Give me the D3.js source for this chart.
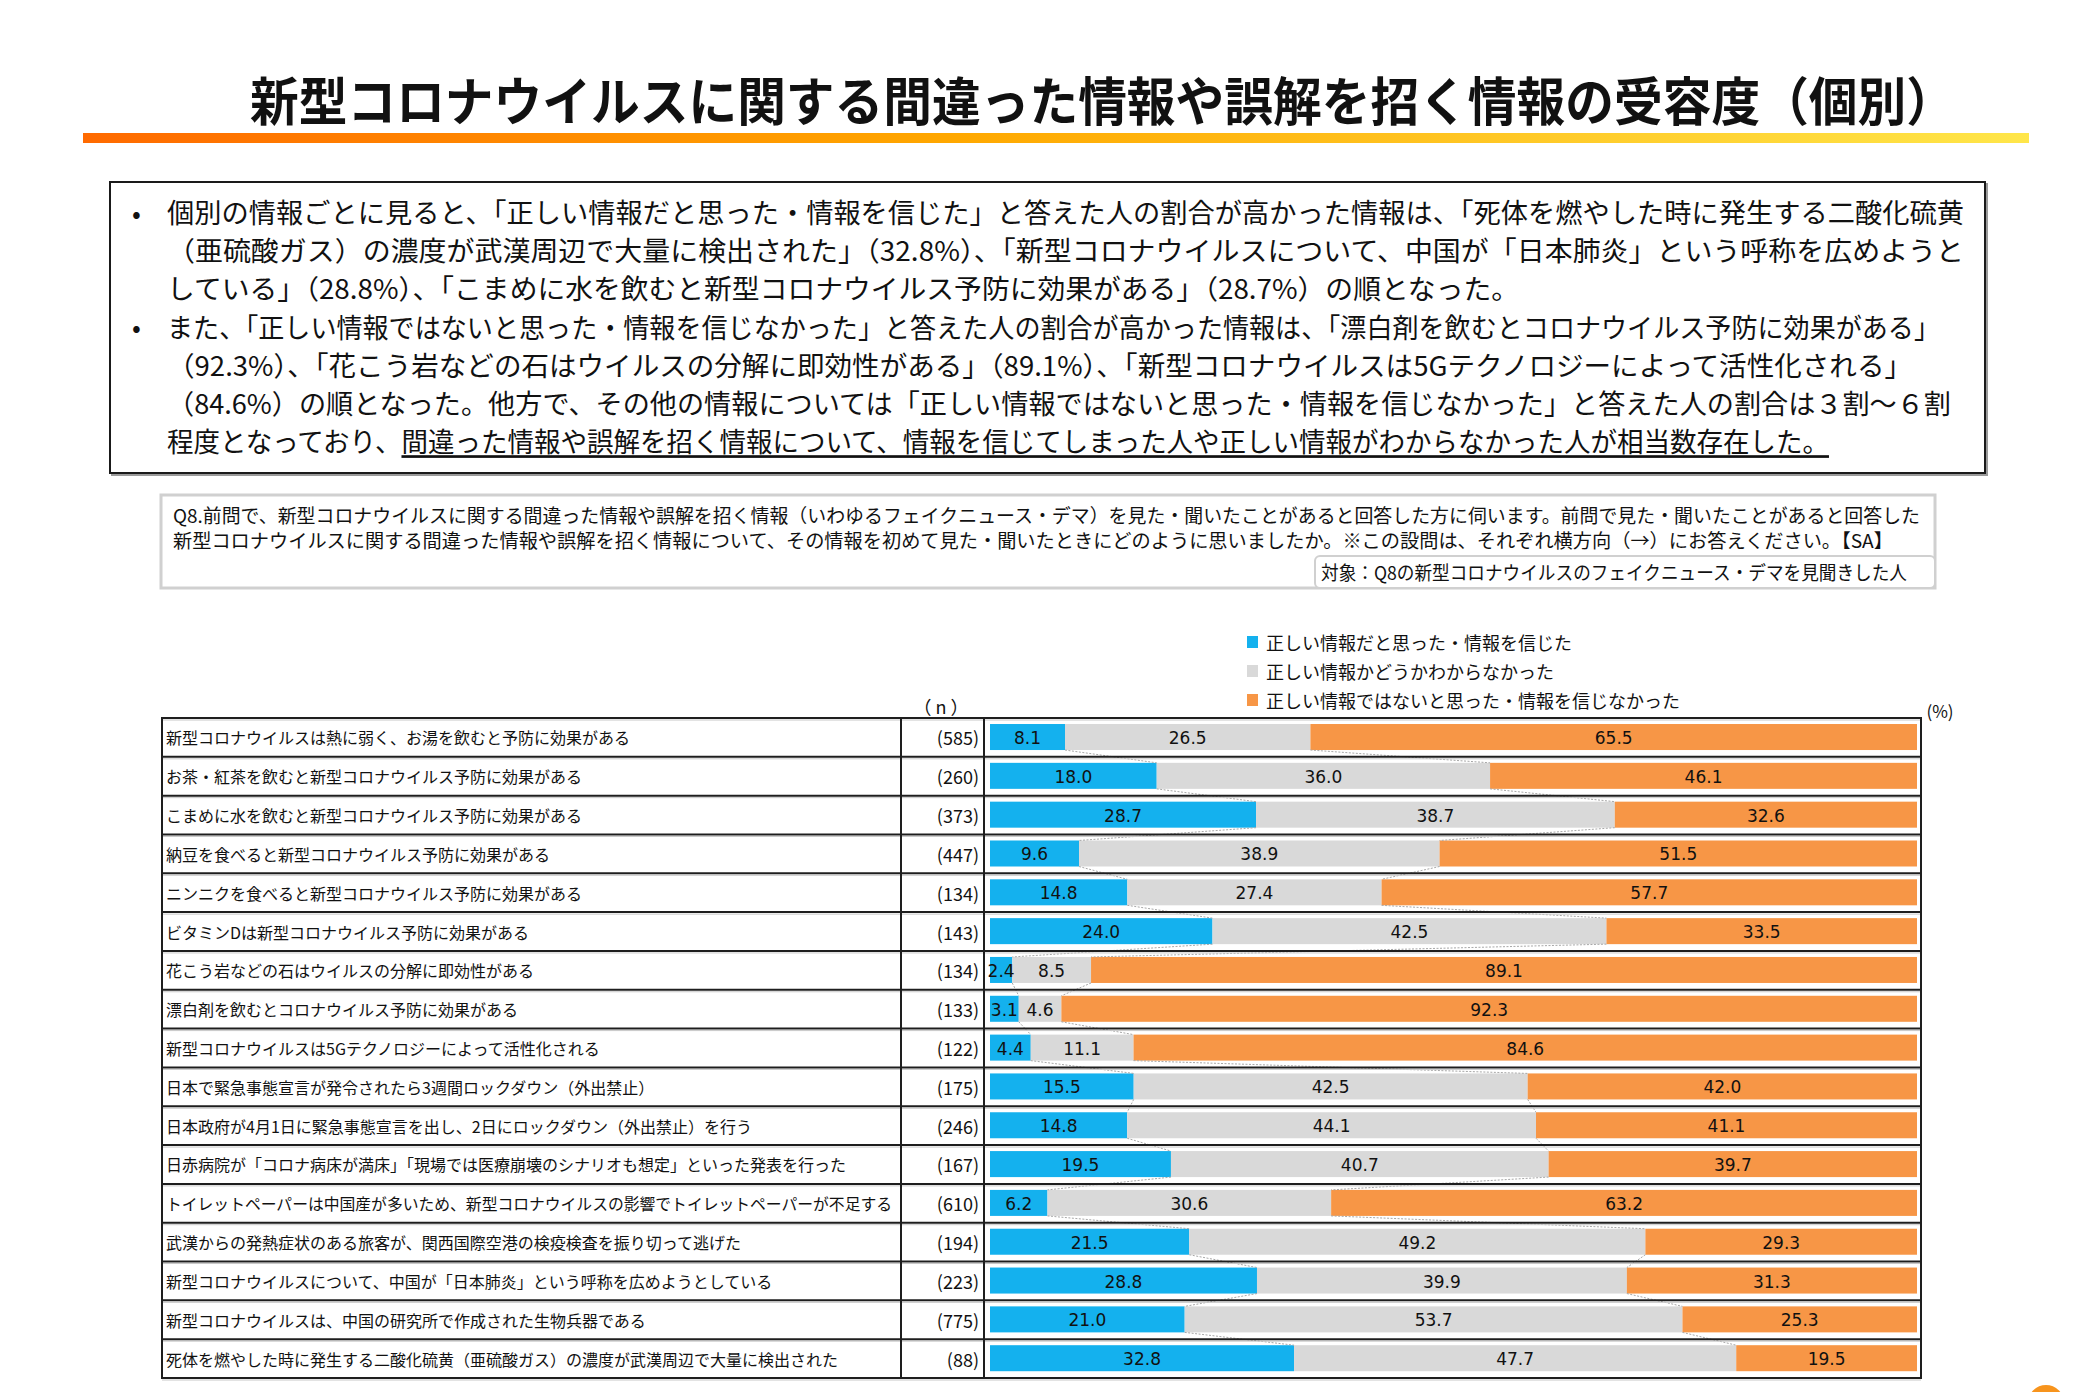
<!DOCTYPE html>
<html>
<head>
<meta charset="utf-8">
<script src="https://cdn.jsdelivr.net/npm/d3@7"></script>
<style>
  body { margin: 0; background: #fff; }
  text { font-family: "Noto Sans CJK JP", "Noto Sans", sans-serif; fill: #111; }
  .num { font-family: "DejaVu Sans", Verdana, sans-serif; }
</style>
</head>
<body>
<div id="chart"></div>
<script>
// ---- data ----
const categories = [
  "新型コロナウイルスは熱に弱く、お湯を飲むと予防に効果がある",
  "お茶・紅茶を飲むと新型コロナウイルス予防に効果がある",
  "こまめに水を飲むと新型コロナウイルス予防に効果がある",
  "納豆を食べると新型コロナウイルス予防に効果がある",
  "ニンニクを食べると新型コロナウイルス予防に効果がある",
  "ビタミンDは新型コロナウイルス予防に効果がある",
  "花こう岩などの石はウイルスの分解に即効性がある",
  "漂白剤を飲むとコロナウイルス予防に効果がある",
  "新型コロナウイルスは5Gテクノロジーによって活性化される",
  "日本で緊急事態宣言が発令されたら3週間ロックダウン（外出禁止）",
  "日本政府が4月1日に緊急事態宣言を出し、2日にロックダウン（外出禁止）を行う",
  "日赤病院が「コロナ病床が満床」「現場では医療崩壊のシナリオも想定」といった発表を行った",
  "トイレットペーパーは中国産が多いため、新型コロナウイルスの影響でトイレットペーパーが不足する",
  "武漢からの発熱症状のある旅客が、関西国際空港の検疫検査を振り切って逃げた",
  "新型コロナウイルスについて、中国が「日本肺炎」という呼称を広めようとしている",
  "新型コロナウイルスは、中国の研究所で作成された生物兵器である",
  "死体を燃やした時に発生する二酸化硫黄（亜硫酸ガス）の濃度が武漢周辺で大量に検出された"
];
const nValues = [585, 260, 373, 447, 134, 143, 134, 133, 122, 175, 246, 167, 610, 194, 223, 775, 88];
const believed    = [8.1, 18.0, 28.7, 9.6, 14.8, 24.0, 2.4, 3.1, 4.4, 15.5, 14.8, 19.5, 6.2, 21.5, 28.8, 21.0, 32.8];
const unsure      = [26.5, 36.0, 38.7, 38.9, 27.4, 42.5, 8.5, 4.6, 11.1, 42.5, 44.1, 40.7, 30.6, 49.2, 39.9, 53.7, 47.7];
const disbelieved = [65.5, 46.1, 32.6, 51.5, 57.7, 33.5, 89.1, 92.3, 84.6, 42.0, 41.1, 39.7, 63.2, 29.3, 31.3, 25.3, 19.5];

const seriesKeys = ["believed", "unsure", "disbelieved"];
const seriesNames = [
  "正しい情報だと思った・情報を信じた",
  "正しい情報かどうかわからなかった",
  "正しい情報ではないと思った・情報を信じなかった"
];
const seriesColors = ["#14b1ee", "#d9d9d9", "#f79646"];

const titleText = "新型コロナウイルスに関する間違った情報や誤解を招く情報の受容度（個別）";
const summaryLines = [
  "個別の情報ごとに見ると、「正しい情報だと思った・情報を信じた」と答えた人の割合が高かった情報は、「死体を燃やした時に発生する二酸化硫黄",
  "（亜硫酸ガス）の濃度が武漢周辺で大量に検出された」（32.8%）、「新型コロナウイルスについて、中国が「日本肺炎」という呼称を広めようと",
  "している」（28.8%）、「こまめに水を飲むと新型コロナウイルス予防に効果がある」（28.7%）の順となった。",
  "また、「正しい情報ではないと思った・情報を信じなかった」と答えた人の割合が高かった情報は、「漂白剤を飲むとコロナウイルス予防に効果がある」",
  "（92.3%）、「花こう岩などの石はウイルスの分解に即効性がある」（89.1%）、「新型コロナウイルスは5Gテクノロジーによって活性化される」",
  "（84.6%）の順となった。他方で、その他の情報については「正しい情報ではないと思った・情報を信じなかった」と答えた人の割合は３割～６割",
  "程度となっており、"
];
const summaryUnderlined = "間違った情報や誤解を招く情報について、情報を信じてしまった人や正しい情報がわからなかった人が相当数存在した。";
const questionLines = [
  "Q8.前問で、新型コロナウイルスに関する間違った情報や誤解を招く情報（いわゆるフェイクニュース・デマ）を見た・聞いたことがあると回答した方に伺います。前問で見た・聞いたことがあると回答した",
  "新型コロナウイルスに関する間違った情報や誤解を招く情報について、その情報を初めて見た・聞いたときにどのように思いましたか。※この設問は、それぞれ横方向（→）にお答えください。【SA】"
];
const targetText = "対象：Q8の新型コロナウイルスのフェイクニュース・デマを見聞きした人";

// ---- page ----
const W = 2092, H = 1392;
const svg = d3.select("#chart").append("svg")
  .attr("width", W)
  .attr("height", H)
  .style("display", "block");

svg.append("rect").attr("width", W).attr("height", H).attr("fill", "#fff");

const defs = svg.append("defs");
const grad = defs.append("linearGradient").attr("id", "rule");
grad.append("stop").attr("offset", "0%").attr("stop-color", "#ff6a00");
grad.append("stop").attr("offset", "45%").attr("stop-color", "#ffa800");
grad.append("stop").attr("offset", "100%").attr("stop-color", "#ffe64a");

// title
svg.append("text")
  .attr("x", 250)
  .attr("y", 98)
  .attr("dominant-baseline", "central")
  .attr("textLength", 1705)
  .attr("lengthAdjust", "spacingAndGlyphs")
  .style("font-size", "52px")
  .style("font-weight", 700)
  .text(titleText);

svg.append("rect")
  .attr("x", 83).attr("y", 133)
  .attr("width", 1946).attr("height", 10)
  .attr("fill", "url(#rule)");

// summary box
svg.append("rect")
  .attr("x", 112).attr("y", 184)
  .attr("width", 1875).attr("height", 291)
  .attr("fill", "none").attr("stroke", "#9a9a9a").attr("stroke-width", 2);
svg.append("rect")
  .attr("x", 110).attr("y", 182)
  .attr("width", 1875).attr("height", 291)
  .attr("fill", "#fff").attr("stroke", "#1a1a1a").attr("stroke-width", 2);

const lineEnds = [1964, 1964, 1519, 1940, 1912, 1951, 1829];
summaryLines.forEach((line, i) => {
  const yy = 211 + i * 38.2;
  if (i === 0 || i === 3) {
    svg.append("text")
      .attr("x", 132).attr("y", yy)
      .attr("dominant-baseline", "central")
      .style("font-size", "26px")
      .text("•");
  }
  const t = svg.append("text")
    .attr("x", 167).attr("y", yy)
    .attr("dominant-baseline", "central")
    .attr("textLength", lineEnds[i] - 167)
    .attr("lengthAdjust", "spacingAndGlyphs")
    .style("font-size", "27px");
  t.append("tspan").text(line);
  if (i === summaryLines.length - 1) {
    t.append("tspan")
      .style("text-decoration", "underline")
      .text(summaryUnderlined);
  }
});

// question box
svg.append("rect")
  .attr("x", 161).attr("y", 495)
  .attr("width", 1774).attr("height", 93)
  .attr("fill", "#fff").attr("stroke", "#d0d0d0").attr("stroke-width", 3);

const qEnds = [1920, 1893];
questionLines.forEach((line, i) => {
  svg.append("text")
    .attr("x", 173).attr("y", 514 + i * 25)
    .attr("dominant-baseline", "central")
    .attr("textLength", qEnds[i] - 173)
    .attr("lengthAdjust", "spacingAndGlyphs")
    .style("font-size", "19px")
    .text(line);
});

svg.append("rect")
  .attr("x", 1315).attr("y", 556)
  .attr("width", 620).attr("height", 32)
  .attr("rx", 5)
  .attr("fill", "#fff").attr("stroke", "#d0d0d0").attr("stroke-width", 2);
svg.append("text")
  .attr("x", 1321).attr("y", 571)
  .attr("dominant-baseline", "central")
  .attr("textLength", 586)
  .attr("lengthAdjust", "spacingAndGlyphs")
  .style("font-size", "19px")
  .text(targetText);

// legend
const legend = svg.append("g").attr("transform", "translate(1247,0)");
seriesNames.forEach((name, i) => {
  const cy = 642 + i * 29;
  legend.append("rect")
    .attr("x", 0).attr("y", cy - 6)
    .attr("width", 11).attr("height", 12)
    .attr("fill", seriesColors[i]);
  legend.append("text")
    .attr("x", 19).attr("y", cy)
    .attr("dominant-baseline", "central")
    .style("font-size", "18px")
    .text(name);
});

// ---- table + stacked bars ----
const tblLeft = 162, colN = 901, colBar = 984, tblRight = 1921;
const tblTop = 718, tblBottom = 1378;

const rows = categories.map((c, i) => ({
  cat: c,
  n: nValues[i],
  believed: believed[i],
  unsure: unsure[i],
  disbelieved: disbelieved[i]
}));

const stack = d3.stack()
  .keys(seriesKeys)
  .offset(d3.stackOffsetExpand)(rows);

const x = d3.scaleLinear().domain([0, 1]).range([990, 1917]);
const y = d3.scaleBand().domain(categories).range([tblTop, tblBottom]);
const bw = y.bandwidth();
const barTop = d => y(d) + bw * 0.155;
const barH = bw * 0.67;

svg.append("text")
  .attr("x", 941).attr("y", 706)
  .attr("text-anchor", "middle")
  .attr("dominant-baseline", "central")
  .style("font-size", "18px")
  .text("（ n ）");

svg.append("text")
  .attr("x", 1940).attr("y", 710)
  .attr("text-anchor", "middle")
  .attr("dominant-baseline", "central")
  .style("font-size", "17px")
  .text("(%)");

// bars
const layers = svg.append("g").selectAll("g")
  .data(stack)
  .enter().append("g")
  .attr("fill", (d, i) => seriesColors[i]);

layers.selectAll("rect")
  .data(d => d)
  .enter().append("rect")
  .attr("x", d => x(d[0]))
  .attr("y", d => barTop(d.data.cat))
  .attr("width", d => x(d[1]) - x(d[0]))
  .attr("height", barH);

// series lines between neighbouring bars
const seriesLines = svg.append("g")
  .attr("stroke", "#a8a8a8")
  .attr("stroke-width", 1)
  .attr("stroke-dasharray", "2,1.5");
stack.slice(0, 2).forEach(layer => {
  for (let i = 0; i < layer.length - 1; i++) {
    seriesLines.append("line")
      .attr("x1", x(layer[i][1]))
      .attr("y1", barTop(categories[i]) + barH)
      .attr("x2", x(layer[i + 1][1]))
      .attr("y2", barTop(categories[i + 1]));
  }
});

// value labels
stack.forEach((layer, k) => {
  svg.append("g").selectAll("text")
    .data(layer)
    .enter().append("text")
    .attr("class", "num")
    .attr("x", d => (x(d[0]) + x(d[1])) / 2)
    .attr("y", d => barTop(d.data.cat) + barH / 2 + 1)
    .attr("text-anchor", "middle")
    .attr("dominant-baseline", "central")
    .style("font-size", "17px")
    .text(d => d.data[seriesKeys[k]].toFixed(1));
});

// grid of the table
const grid = svg.append("g");
const rowEdges = categories.map(c => y(c)).concat([tblBottom]);
rowEdges.forEach(yy => {
  grid.append("line")
    .attr("x1", tblLeft).attr("x2", tblRight)
    .attr("y1", yy + 2).attr("y2", yy + 2)
    .attr("stroke", "#c8c8c8").attr("stroke-width", 1);
  grid.append("line")
    .attr("x1", tblLeft).attr("x2", tblRight)
    .attr("y1", yy).attr("y2", yy)
    .attr("stroke", "#1e1e1e").attr("stroke-width", 2);
});
[tblLeft, colN, colBar, tblRight].forEach(xx => {
  grid.append("line")
    .attr("x1", xx).attr("x2", xx)
    .attr("y1", tblTop - 1).attr("y2", tblBottom + 1)
    .attr("stroke", "#1e1e1e").attr("stroke-width", 2);
});

// row labels and n
categories.forEach((c, i) => {
  const cy = y(c) + bw / 2;
  const t = svg.append("text")
    .attr("x", 166).attr("y", cy)
    .attr("dominant-baseline", "central")
    .style("font-size", "16px")
    .text(c);
  if (t.node().getComputedTextLength() > 726) {
    t.attr("textLength", 726).attr("lengthAdjust", "spacingAndGlyphs");
  }
  svg.append("text")
    .attr("x", 979).attr("y", cy)
    .attr("text-anchor", "end")
    .attr("dominant-baseline", "central")
    .style("font-size", "18px")
    .text("(" + nValues[i] + ")");
});

// corner mark
svg.append("circle")
  .attr("cx", 2046).attr("cy", 1403)
  .attr("r", 18)
  .attr("fill", "#f7941d");
</script>
</body>
</html>
